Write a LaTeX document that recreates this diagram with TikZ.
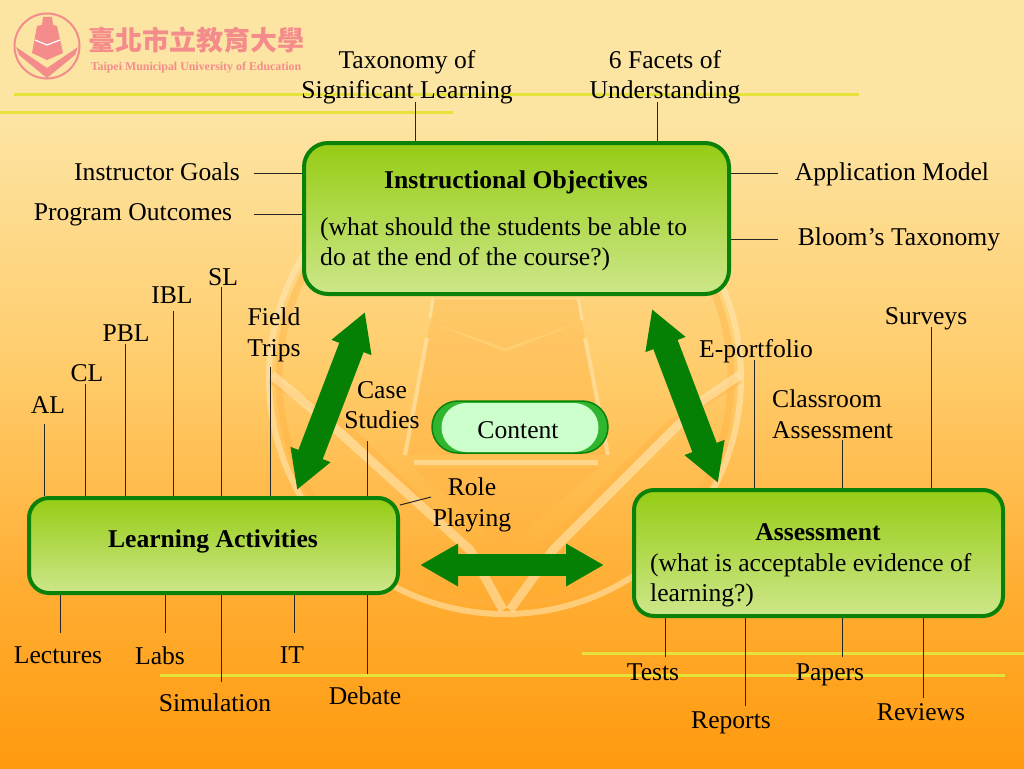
\documentclass[tikz,border=0pt]{standalone}
\usepackage{fontspec}
\setmainfont{Liberation Serif}
\newfontfamily\cjkfont{Noto Sans CJK TC}
\usepackage{tikz}
\usetikzlibrary{arrows.meta}
\usetikzlibrary{shapes,positioning}

\definecolor{boxgreen}{HTML}{0A820A}
\definecolor{arrowgreen}{HTML}{058005}
\definecolor{boxtop}{HTML}{96CC14}
\definecolor{boxbot}{HTML}{CDE78A}
\definecolor{pillfill}{HTML}{CCFFCC}
\definecolor{pillbright}{HTML}{2FB52F}
\definecolor{logopink}{HTML}{F58C8C}
\definecolor{rule}{HTML}{E6E23C}
\definecolor{markpale}{HTML}{FFE9B8}
\definecolor{markdark}{HTML}{FFB040}

% only 25bp to 75bp of a shading shows
\pgfdeclareverticalshading{slideback}{100bp}{
  rgb(0bp)=(1,0.604,0.055);
  rgb(25bp)=(1,0.604,0.055);
  rgb(36bp)=(1,0.675,0.19);
  rgb(51bp)=(1,0.80,0.42);
  rgb(67.5bp)=(0.99,0.895,0.64);
  rgb(100bp)=(0.99,0.895,0.64)}

\tikzset{
  lbl/.style={inner sep=0pt,align=center,font=\fontsize{25.6}{30.5}\selectfont},
  leader/.style={line width=1pt,draw=black!85},
  yellowrule/.style={line width=3pt,draw=rule},
  bigbox/.style={draw=boxgreen,line width=4pt,rounded corners=24pt,
    top color=boxtop,bottom color=boxbot,inner sep=0pt},
  bigarrow/.style={line width=26pt,draw=arrowgreen,
    {Triangle[length=38pt,width=40pt]}-{Triangle[length=38pt,width=40pt]}},
  wmark/.style={draw=markpale,line width=6pt,opacity=.55},
  wdark/.style={draw=markdark,line width=7pt,opacity=.4}
}

\begin{document}
\begin{tikzpicture}[x=1pt,y=-1pt]

  \useasboundingbox (0,0) rectangle (1024,768);
  \shade [shading=slideback] (0,0) rectangle (1024,768);

  % watermark
  \fill [markdark,opacity=.3] (430,322) -- (505,352) -- (582,322) -- (606,455) -- (408,455) -- cycle;
  \fill [markdark,opacity=.3] (435,300) -- (578,300) -- (581,322) -- (505,348) -- (431,322) -- cycle;
  \fill [markdark,opacity=.3] (414,468) -- (598,468) -- (505,548) -- cycle;
  \draw [wdark] (505,378) circle (226);
  \draw [wmark] (505,378) circle (236);
  \draw [wdark] (270,380) -- (345,425) -- (505,585) -- (668,425) -- (740,380);
  \draw [wmark,line width=9pt] (272,375) -- (337,430) -- (470,550) -- (503,610);
  \draw [wmark,line width=9pt] (740,375) -- (703,400) -- (553,550) -- (510,610);
  \draw [wmark,line width=3pt] (433,298) -- (430,318);
  \draw [wmark,line width=3pt] (578,298) -- (582,320);
  \draw [wmark,line width=4pt] (427,338) -- (405,455);
  \draw [wmark,line width=4pt] (585,338) -- (608,455);
  \draw [wmark,line width=5pt] (414,462) -- (598,462);

  % yellow rules
  \draw [yellowrule] (14,94) -- (859,94);
  \draw [yellowrule] (0,112) -- (453,112);
  \draw [yellowrule] (582,653) -- (1024,653);
  \draw [yellowrule] (160,675) -- (1005,675);

  % logo
  \draw [logopink,line width=2pt] (47,46) circle (32.5);
  \fill [logopink] (43,17) -- (52,17) -- (53,25) -- (57,26) -- (63,53) -- (47,60) -- (32,53) -- (37,26) -- (42,25) -- cycle;
  \draw [rule!0!white,line width=1.2pt] (35,40) -- (47,45) -- (60,40);
  \fill [logopink] (16,47) -- (47,68) -- (78,47) -- (75,55) -- (47,78) -- (19,55) -- cycle;
  \node (logocn) at (196,40) {\cjkfont\bfseries\fontsize{27}{27}\selectfont\color{logopink}臺北市立教育大學};
  \node (logoen) at (196,68) {\fontsize{11.9}{12}\selectfont\bfseries\color{logopink}Taipei Municipal University of Education};

  % boxes
  \node [bigbox,minimum width=425pt,minimum height=151pt] (iobj) at (516.5,218.5) {};
  \node [bigbox,minimum width=369pt,minimum height=95pt,rounded corners=20pt] (act) at (213.5,545.5) {};
  \node [bigbox,minimum width=369pt,minimum height=126pt,rounded corners=20pt] (assess) at (818.5,553) {};

  \node [lbl] (iobjtitle) at (516,182) {\textbf{Instructional Objectives}};
  \node [lbl,align=left,anchor=west] (iobjtext) at (320,244.5) {(what should the students be able to\\do at the end of the course?)};
  \node [lbl] (acttitle) at (213,541) {\textbf{Learning Activities}};
  \node [lbl] (assesstitle) at (818,532) {\textbf{Assessment}};
  \node [lbl,align=left,anchor=west] (assesstext) at (650,580) {(what is acceptable evidence of\\learning?)};

  % content pill
  \node [rounded rectangle,draw=boxgreen,line width=1.5pt,left color=pillbright,middle color=boxgreen,right color=pillbright,
    minimum width=176pt,minimum height=52pt,inner sep=0pt] (pill) at (520,427) {};
  \node [rounded rectangle,fill=pillfill,minimum width=157pt,minimum height=49pt,inner sep=0pt] (content) at (520,427.5) {};
  \node [lbl] (contenttext) at (518,430) {Content};

  % big arrows
  \coordinate (ula) at (365,312);
  \coordinate (ulb) at (297,490);
  \coordinate (ura) at (652,309);
  \coordinate (urb) at (718,483);
  \coordinate (ha) at (420,565);
  \coordinate (hb) at (604,565);
  \draw [bigarrow] (ula) -- (ulb);
  \draw [bigarrow] (ura) -- (urb);
  \draw [bigarrow,line width=22pt] (ha) -- (hb);

  % labels
  \node [lbl] (tax) at (407,77) {Taxonomy of\\Significant Learning};
  \node [lbl] (facets) at (665,77) {6 Facets of\\Understanding};
  \node [lbl] (goals) at (157,172) {Instructor Goals};
  \node [lbl] (outcomes) at (133,215) {Program Outcomes};
  \node [lbl] (appmodel) at (892,174) {Application Model};
  \node [lbl] (bloom) at (899,239) {Bloom’s Taxonomy};

  \node [lbl] (al) at (48,405) {AL};
  \node [lbl] (cl) at (87,373) {CL};
  \node [lbl] (pbl) at (126,333) {PBL};
  \node [lbl] (ibl) at (172,295) {IBL};
  \node [lbl] (sl) at (223,277) {SL};
  \node [lbl] (field) at (274,335) {Field\\Trips};
  \node [lbl] (cases) at (382,405) {Case\\Studies};
  \node [lbl] (role) at (472,505) {Role\\Playing};

  \node [lbl] (lectures) at (58,655) {Lectures};
  \node [lbl] (labs) at (160,656) {Labs};
  \node [lbl] (it) at (292,655) {IT};
  \node [lbl] (simul) at (215,703) {Simulation};
  \node [lbl] (debate) at (365,696) {Debate};

  \node [lbl] (eport) at (756,351) {E-portfolio};
  \node [lbl,align=left,anchor=west] (classroom) at (772,414) {Classroom\\Assessment};
  \node [lbl] (surveys) at (926,319) {Surveys};
  \node [lbl] (tests) at (653,672) {Tests};
  \node [lbl] (reports) at (731,723) {Reports};
  \node [lbl] (papers) at (830,675) {Papers};
  \node [lbl] (reviews) at (921,712) {Reviews};

  % leaders
  \foreach \x/\y [count=\i] in {415/102,657/102} {
    \coordinate (itop\i) at (\x,\y);
    \draw [leader] (itop\i) -- (itop\i |- iobj.north);
  }
  \foreach \x/\y [count=\i] in {254/173,254/214} {
    \coordinate (ileft\i) at (\x,\y);
    \draw [leader] (ileft\i) -- (ileft\i -| iobj.west);
  }
  \foreach \x/\y [count=\i] in {778/173,778/239} {
    \coordinate (iright\i) at (\x,\y);
    \draw [leader] (iright\i) -- (iright\i -| iobj.east);
  }
  \foreach \x/\y [count=\i] in {44/424,85/384,125/344,173/311,221/287,270/367,367/441} {
    \coordinate (atop\i) at (\x,\y);
    \draw [leader] (atop\i) -- (atop\i |- act.north);
  }
  \foreach \x/\y [count=\i] in {60/633,165/633,221/682,294/633,367/674} {
    \coordinate (abot\i) at (\x,\y);
    \draw [leader] (abot\i) -- (abot\i |- act.south);
  }
  \foreach \x/\y [count=\i] in {754/360,842/440,931/327} {
    \coordinate (stop\i) at (\x,\y);
    \draw [leader] (stop\i) -- (stop\i |- assess.north);
  }
  \foreach \x/\y [count=\i] in {665/657,745/706,842/657,923/698} {
    \coordinate (sbot\i) at (\x,\y);
    \draw [leader] (sbot\i) -- (sbot\i |- assess.south);
  }
  \coordinate (roleend) at (431,497);
  \coordinate (rolestart) at (400,505);
  \draw [leader] (roleend) -- (rolestart);

\end{tikzpicture}
\end{document}
